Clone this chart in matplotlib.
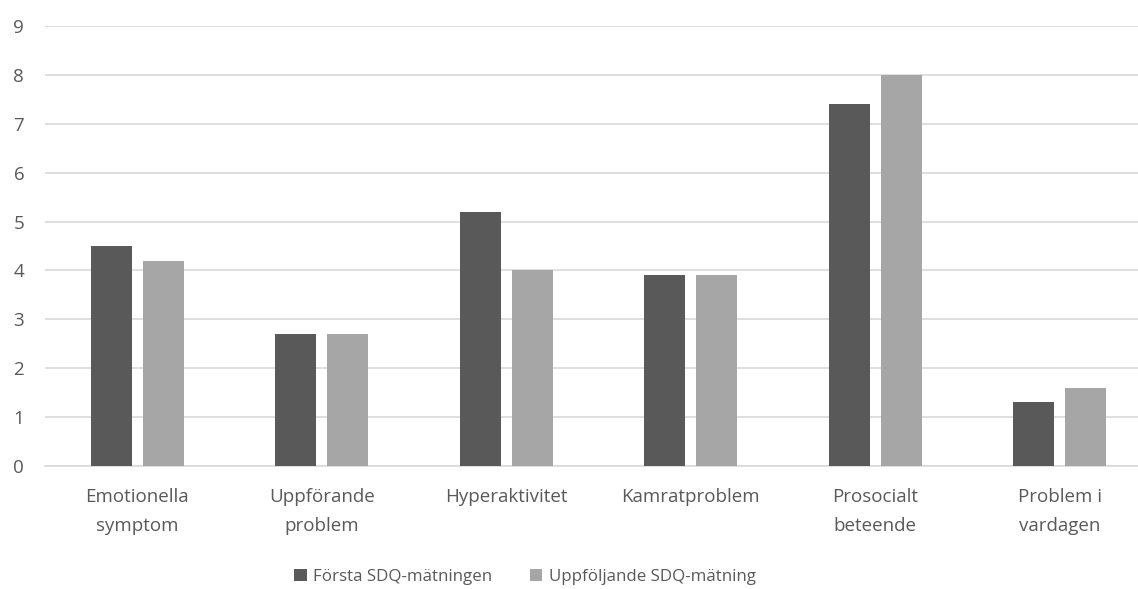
import matplotlib.pyplot as plt
import numpy as np

categories = ['Emotionella\nsymptom', 'Uppförande\nproblem', 'Hyperaktivitet',
              'Kamratproblem', 'Prosocialt\nbeteende', 'Problem i\nvardagen']
forsta = [4.5, 2.7, 5.2, 3.9, 7.4, 1.3]
uppfoljande = [4.2, 2.7, 4.0, 3.9, 8.0, 1.6]
series_names = ['Första SDQ-mätningen', 'Uppföljande SDQ-mätning']

plt.rcParams['font.family'] = ['Open Sans', 'DejaVu Sans']
text_color = '#595959'

W, H = 1138, 589
fig = plt.figure(figsize=(W / 100, H / 100), dpi=100)
# plot area runs a bit past the right edge, like the cropped original
ax = fig.add_axes([45 / W, 1 - 466 / H, 1107 / W, (466 - 26) / H])

x = np.arange(len(categories))
w = 0.222
gap = 0.062
ax.bar(x - gap / 2 - w / 2, forsta, width=w, color='#595959', label=series_names[0], zorder=3)
ax.bar(x + gap / 2 + w / 2, uppfoljande, width=w, color='#a6a6a6', label=series_names[1], zorder=3)

ax.set_xlim(-0.5, len(categories) - 0.5)
ax.set_ylim(0, 9)
ax.set_yticks(range(0, 10))
ax.yaxis.grid(True, color='#d9d9d9', linewidth=1.2, zorder=0)
ax.set_axisbelow(True)
for s in ['top', 'right', 'left']:
    ax.spines[s].set_visible(False)
ax.spines['bottom'].set_color('#d9d9d9')
ax.spines['bottom'].set_linewidth(1.2)
ax.tick_params(axis='both', length=0, colors=text_color, labelsize=13.5)
ax.tick_params(axis='x', pad=16)
ax.tick_params(axis='y', pad=15)
ax.set_xticks(x)
ax.set_xticklabels(categories, linespacing=1.8)

leg = fig.legend(loc='center', bbox_to_anchor=(525 / W, 1 - 577 / H), ncol=2, frameon=False,
                 fontsize=12.2, handlelength=0.75, handleheight=0.75, handletextpad=0.4,
                 columnspacing=2.2)
for t in leg.get_texts():
    t.set_color(text_color)

fig.savefig('out.png', dpi=100)
